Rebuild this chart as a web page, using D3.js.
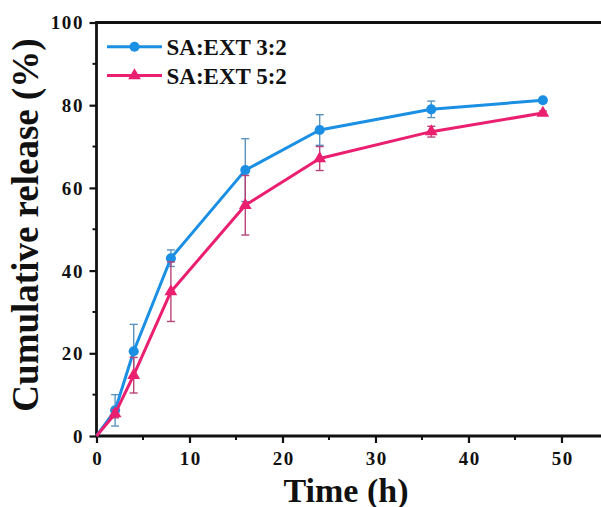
<!DOCTYPE html>
<html>
<head>
<meta charset="utf-8">
<script src="https://cdn.jsdelivr.net/npm/d3@7"></script>
<style>
  html, body { margin: 0; padding: 0; background: #fff; }
  svg { display: block; }
  text { font-family: "Liberation Serif", "Times New Roman", serif; font-weight: bold; fill: #111; }
</style>
</head>
<body>
<svg id="chart" width="601" height="507"></svg>
<script>
// Sampling times (h)
const times = [0, 2, 4, 8, 16, 24, 36, 48];

// Cumulative release (%) and standard deviations
const seriesNames = ["SA:EXT 3:2", "SA:EXT 5:2"];
const release32 = [0, 6.2, 20.5, 43.0, 64.3, 74.0, 79.0, 81.2];
const err32     = [0, 3.8, 6.5, 2.0, 7.6, 3.7, 2.0, 0.6];
const release52 = [0, 5.4, 14.7, 34.9, 55.8, 67.1, 73.6, 78.1];
const err52     = [0, 1.0, 4.3, 7.2, 7.2, 2.9, 1.3, 0.5];

const xTicks = [0, 10, 20, 30, 40, 50];
const yTicks = [0, 20, 40, 60, 80, 100];

const colors = ["#1a8fe3", "#ea1f70"];
const errColors = ["#5a94bf", "#b8457a"];

const svg = d3.select("#chart");
const W = 601, H = 507;
const x0px = 96.5, yBottom = 436, yTop = 22.5;

const x = d3.scaleLinear().domain([0, 54.25]).range([x0px, W]);
const y = d3.scaleLinear().domain([0, 100]).range([yBottom, yTop]);

const series = [
  { name: seriesNames[0], values: release32, errs: err32, color: colors[0], ecolor: errColors[0], shape: d3.symbolCircle, size: 80 },
  { name: seriesNames[1], values: release52, errs: err52, color: colors[1], ecolor: errColors[1], shape: d3.symbolTriangle, size: 70 }
];

const xMinor = d3.range(5, 55, 10);
const yMinor = d3.range(10, 100, 20);
const tickFont = { size: "19px", spacing: "1.6px" };

// Bottom axis
const gx = svg.append("g").attr("transform", `translate(0,${y(0)})`);
gx.call(d3.axisBottom(x).tickValues(xTicks).tickSize(7).tickFormat(d3.format("d")));
gx.selectAll(".tick text").attr("y", 29).attr("dy", null).attr("dx", "0.8px");
xMinor.forEach(v => gx.append("line").attr("x1", x(v)).attr("x2", x(v)).attr("y1", 0).attr("y2", 4)
  .attr("stroke", "#111").attr("stroke-width", 2));

// Left axis
const gy = svg.append("g").attr("transform", `translate(${x(0)},0)`);
gy.call(d3.axisLeft(y).tickValues(yTicks).tickSize(7).tickFormat(d3.format("d")));
gy.selectAll(".tick text").attr("x", -12.5).attr("dy", "0.34em");
yMinor.forEach(v => gy.append("line").attr("x1", 0).attr("x2", -4).attr("y1", y(v)).attr("y2", y(v))
  .attr("stroke", "#111").attr("stroke-width", 2));

[gx, gy].forEach(g => {
  g.select(".domain").attr("stroke", "#111").attr("stroke-width", 2.8);
  g.selectAll(".tick line").attr("stroke", "#111").attr("stroke-width", 2.2);
  g.selectAll(".tick text")
    .style("font-size", tickFont.size).style("letter-spacing", tickFont.spacing)
    .style("font-family", "Liberation Serif").style("font-weight", "bold").attr("fill", "#111");
});
gx.select(".domain").attr("d", `M${x(0)},0H${W}`);
gy.select(".domain").attr("d", `M0,${y(0)}V${y(100)}`);

// Top frame line
svg.append("line").attr("x1", x(0) - 1.4).attr("x2", W).attr("y1", y(100)).attr("y2", y(100))
  .attr("stroke", "#111").attr("stroke-width", 2.8);

// Series: error bars, lines, markers
series.forEach(s => {
  const pts = times.map((t, i) => ({ t, v: s.values[i], e: s.errs[i] }));
  const g = svg.append("g");
  pts.filter(p => p.e > 0).forEach(p => {
    const cx = x(p.t), y1 = y(p.v + p.e), y2 = y(p.v - p.e);
    g.append("line").attr("x1", cx).attr("x2", cx).attr("y1", y1).attr("y2", y2)
      .attr("stroke", s.ecolor).attr("stroke-width", 1.4);
    [y1, y2].forEach(yy => g.append("line").attr("x1", cx - 4).attr("x2", cx + 4).attr("y1", yy).attr("y2", yy)
      .attr("stroke", s.ecolor).attr("stroke-width", 1.4));
  });
  g.append("path").datum(pts)
    .attr("d", d3.line().x(p => x(p.t)).y(p => y(p.v)))
    .attr("fill", "none").attr("stroke", s.color).attr("stroke-width", 3).attr("stroke-linejoin", "round");
  g.selectAll("path.m").data(pts.slice(1)).enter().append("path").attr("class", "m")
    .attr("transform", p => `translate(${x(p.t)},${y(p.v)})`)
    .attr("d", d3.symbol().type(s.shape).size(s.size))
    .attr("fill", s.color);
});

// Legend
series.forEach((s, i) => {
  const ly = 46.7 + i * 28.8;
  const g = svg.append("g");
  g.append("line").attr("x1", 107).attr("x2", 162).attr("y1", ly).attr("y2", ly)
    .attr("stroke", s.color).attr("stroke-width", 3);
  g.append("path").attr("transform", `translate(134.5,${ly})`)
    .attr("d", d3.symbol().type(s.shape).size(s.size))
    .attr("fill", s.color);
  g.append("text").attr("x", 166.5).attr("y", ly + 8.3).style("font-size", "23px").text(s.name);
});

// Axis titles
svg.append("text").attr("x", 346).attr("y", 501.5).attr("text-anchor", "middle")
  .style("font-size", "34px").text("Time (h)");
svg.append("text").attr("transform", `translate(38,225) rotate(-90)`)
  .attr("text-anchor", "middle").style("font-size", "37px").text("Cumulative release (%)");
</script>
</body>
</html>
